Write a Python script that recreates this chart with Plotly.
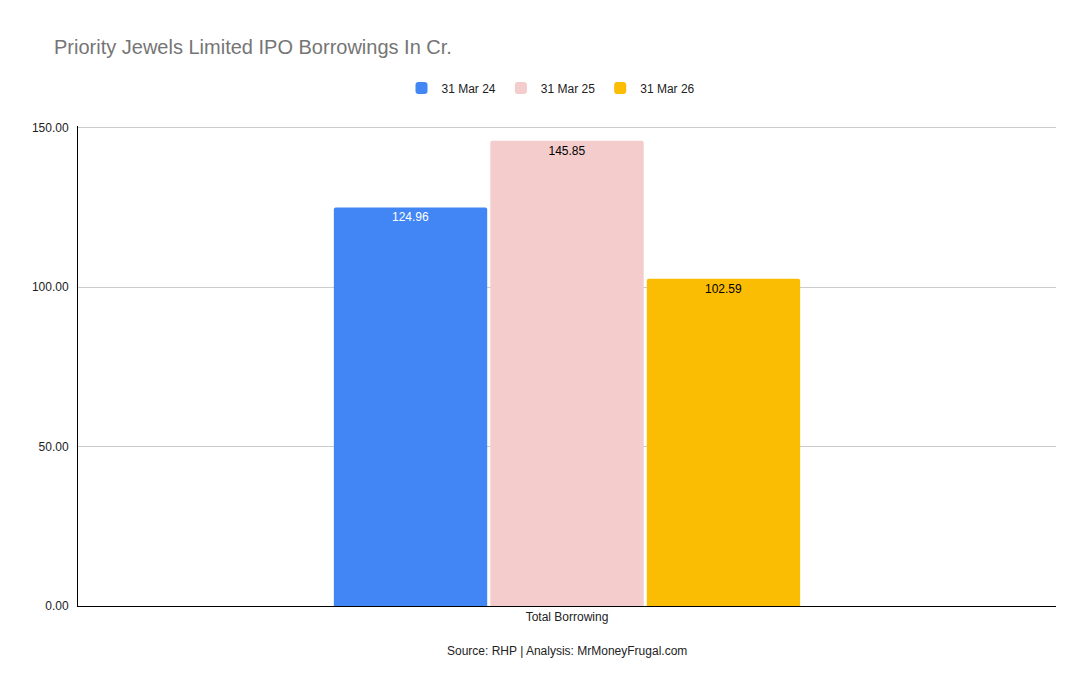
import plotly.graph_objects as go

categories = ["Total Borrowing"]
series_names = ["31 Mar 24", "31 Mar 25", "31 Mar 26"]
values_2024 = [124.96]
values_2025 = [145.85]
values_2026 = [102.59]
colors = ["#4285F4", "#F4CCCC", "#FBBC04"]
text_colors = ["#FFFFFF", "#000000", "#000000"]

fig = go.Figure()
for name, vals, col, tcol in zip(series_names, [values_2024, values_2025, values_2026], colors, text_colors):
    fig.add_trace(go.Bar(
        x=categories, y=vals, name=name, marker_color=col, marker_line_width=0,
        marker_cornerradius=2,
        text=[f"{v:.2f}" for v in vals], textposition="inside", insidetextanchor="end",
        textfont=dict(color=tcol, size=12, family="Liberation Sans, Arial"),
        textangle=0,
    ))

# page body adds an 8px offset; compensate so the plot lands where the reference has it
W, H = 1082, 686
fig.update_layout(
    width=W, height=H,
    margin=dict(l=70, r=34, t=118, b=88),
    paper_bgcolor="white", plot_bgcolor="white",
    font=dict(family="Liberation Sans, Arial", size=12, color="#222222"),
    title=dict(text="Priority Jewels Limited IPO Borrowings In Cr.", x=46 / W, xref="container",
               y=1 - 39 / H, yref="container", yanchor="middle", xanchor="left",
               font=dict(size=20, color="#757575", family="Liberation Sans, Arial")),
    barmode="group", bargap=0.52, bargroupgap=0.02,
    legend=dict(orientation="h", x=(543 - 70) / 978, xanchor="center", y=1.079, yanchor="middle",
                font=dict(size=12, color="#222222")),
    xaxis=dict(showline=True, linecolor="#000000", linewidth=1, ticks="", showgrid=False,
               tickfont=dict(size=12, color="#222222")),
    yaxis=dict(range=[0, 150.5], tickvals=[0, 50, 100, 150], tickformat=".2f",
               showline=True, linecolor="#000000", linewidth=1, gridcolor="#CCCCCC",
               ticks="outside", ticklen=6, tickcolor="rgba(0,0,0,0)",
               zeroline=False, tickfont=dict(size=12, color="#222222")),
    annotations=[dict(text="Source: RHP | Analysis: MrMoneyFrugal.com", x=0.5, xref="paper",
                      y=(606 - 651) / 480, yref="paper", showarrow=False, yanchor="middle",
                      font=dict(size=12, color="#222222"))],
)

fig.write_html("out.html")
